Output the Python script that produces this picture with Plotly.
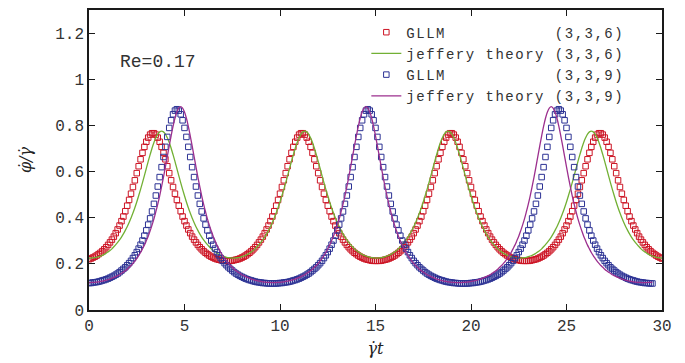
import plotly.graph_objects as go

# sampling step of the simulation time axis (gamma_dot * t)
t_step = 0.1

# GLLM (3,3,6): phi_dot / gamma_dot
gllm_336 = [
    0.220,0.223,0.227,0.231,0.236,0.242,0.248,0.255,0.263,0.272,0.282,0.293,0.305,0.318,0.333,0.349,0.366,0.385,0.405,0.428,0.452,0.477,0.504,0.533,0.562,0.593,0.623,0.653,0.681,0.707,0.729,0.747,0.760,0.766,
    0.766,0.760,0.747,0.729,0.707,0.681,0.653,0.623,0.593,0.562,0.533,0.504,0.477,0.452,0.428,0.405,0.385,0.366,0.349,0.333,0.318,0.305,0.293,0.282,0.272,0.263,0.255,0.248,0.242,0.236,0.231,0.227,0.223,0.220,0.218,0.216,0.214,0.213,0.213,
    0.213,0.213,0.214,0.216,0.218,0.220,0.223,0.227,0.231,0.236,0.242,0.248,0.255,0.263,0.272,0.282,0.293,0.305,0.318,0.333,0.349,0.366,0.385,0.405,0.428,0.452,0.477,0.504,0.533,0.562,0.593,0.623,0.653,0.681,0.707,0.729,0.747,0.760,0.766,
    0.766,0.760,0.747,0.729,0.707,0.681,0.653,0.623,0.593,0.562,0.533,0.504,0.477,0.452,0.428,0.405,0.385,0.366,0.349,0.333,0.318,0.305,0.293,0.282,0.272,0.263,0.255,0.248,0.242,0.236,0.231,0.227,0.223,0.220,0.218,0.216,0.214,0.213,0.213,
    0.213,0.213,0.214,0.216,0.218,0.220,0.223,0.227,0.231,0.236,0.242,0.248,0.255,0.263,0.272,0.282,0.293,0.305,0.318,0.333,0.349,0.366,0.385,0.405,0.428,0.452,0.477,0.504,0.533,0.562,0.593,0.623,0.653,0.681,0.707,0.729,0.747,0.760,0.766,
    0.766,0.760,0.747,0.729,0.707,0.681,0.653,0.623,0.593,0.562,0.533,0.504,0.477,0.452,0.428,0.405,0.385,0.366,0.349,0.333,0.318,0.305,0.293,0.282,0.272,0.263,0.255,0.248,0.242,0.236,0.231,0.227,0.223,0.220,0.218,0.216,0.214,0.213,0.213,
    0.213,0.213,0.214,0.216,0.218,0.220,0.223,0.227,0.231,0.236,0.242,0.248,0.255,0.263,0.272,0.282,0.293,0.305,0.318,0.333,0.349,0.366,0.385,0.405,0.428,0.452,0.477,0.504,0.533,0.562,0.593,0.623,0.653,0.681,0.707,0.729,0.747,0.760,0.766,
    0.766,0.760,0.747,0.729,0.707,0.681,0.653,0.623,0.593,0.562,0.533,0.504,0.477,0.452,0.428,0.405,0.385,0.366,0.349,0.333,0.318,0.305,0.293,0.282,0.272,0.263,0.255,0.248,0.242,0.236,0.231,0.227,0.223,
]

# Jeffery theory (3,3,6)
jeffery_336 = [
    0.225,
    0.225,0.226,0.227,0.228,0.231,0.234,0.237,0.241,0.246,0.252,0.258,0.265,0.274,0.283,0.293,0.304,0.316,0.330,0.345,0.361,0.379,0.399,0.420,0.443,0.468,0.495,0.523,0.552,0.582,0.613,0.644,0.673,0.701,0.726,0.746,0.762,0.772,0.775,
    0.772,0.762,0.746,0.726,0.701,0.673,0.644,0.613,0.582,0.552,0.523,0.495,0.468,0.443,0.420,0.399,0.379,0.361,0.345,0.330,0.316,0.304,0.293,0.283,0.274,0.265,0.258,0.252,0.246,0.241,0.237,0.234,0.231,0.228,0.227,0.226,0.225,
    0.225,0.226,0.227,0.228,0.231,0.234,0.237,0.241,0.246,0.252,0.258,0.265,0.274,0.283,0.293,0.304,0.316,0.330,0.345,0.361,0.379,0.399,0.420,0.443,0.468,0.495,0.523,0.552,0.582,0.613,0.644,0.673,0.701,0.726,0.746,0.762,0.772,0.775,
    0.772,0.762,0.746,0.726,0.701,0.673,0.644,0.613,0.582,0.552,0.523,0.495,0.468,0.443,0.420,0.399,0.379,0.361,0.345,0.330,0.316,0.304,0.293,0.283,0.274,0.265,0.258,0.252,0.246,0.241,0.237,0.234,0.231,0.228,0.227,0.226,0.225,
    0.225,0.226,0.227,0.228,0.231,0.234,0.237,0.241,0.246,0.252,0.258,0.265,0.274,0.283,0.293,0.304,0.316,0.330,0.345,0.361,0.379,0.399,0.420,0.443,0.468,0.495,0.523,0.552,0.582,0.613,0.644,0.673,0.701,0.726,0.746,0.762,0.772,0.775,
    0.772,0.762,0.746,0.726,0.701,0.673,0.644,0.613,0.582,0.552,0.523,0.495,0.468,0.443,0.420,0.399,0.379,0.361,0.345,0.330,0.316,0.304,0.293,0.283,0.274,0.265,0.258,0.252,0.246,0.241,0.237,0.234,0.231,0.228,0.227,0.226,0.225,
    0.225,0.226,0.227,0.228,0.231,0.234,0.237,0.241,0.246,0.252,0.258,0.265,0.274,0.283,0.293,0.304,0.316,0.330,0.345,0.361,0.379,0.399,0.420,0.443,0.468,0.495,0.523,0.552,0.582,0.613,0.644,0.673,0.701,0.726,0.746,0.762,0.772,0.775,
    0.772,0.762,0.746,0.726,0.701,0.673,0.644,0.613,0.582,0.552,0.523,0.495,0.468,0.443,0.420,0.399,0.379,0.361,0.345,0.330,0.316,0.304,0.293,0.283,0.274,0.265,0.258,0.252,0.246,0.241,0.237,0.234,0.231,0.228,0.227,0.226,0.225,
]

# GLLM (3,3,9)
gllm_339 = [
    0.117,0.117,0.119,0.120,0.121,0.123,0.125,0.128,0.130,0.133,0.136,0.140,0.144,0.148,0.153,0.158,0.164,0.171,0.178,0.185,0.194,0.203,0.213,0.225,0.237,0.251,0.266,0.283,0.301,0.322,0.345,0.370,0.397,0.427,0.460,0.496,0.535,0.576,0.619,0.663,0.707,0.750,0.789,0.822,0.848,0.864,0.870,
    0.864,0.848,0.822,0.789,0.750,0.707,0.663,0.619,0.576,0.535,0.496,0.460,0.427,0.397,0.370,0.345,0.322,0.301,0.283,0.266,0.251,0.237,0.225,0.213,0.203,0.194,0.185,0.178,0.171,0.164,0.158,0.153,0.148,0.144,0.140,0.136,0.133,0.130,0.128,0.125,0.123,0.121,0.120,0.119,0.117,0.117,0.116,0.115,0.115,0.115,
    0.115,0.115,0.116,0.117,0.117,0.119,0.120,0.121,0.123,0.125,0.128,0.130,0.133,0.136,0.140,0.144,0.148,0.153,0.158,0.164,0.171,0.178,0.185,0.194,0.203,0.213,0.225,0.237,0.251,0.266,0.283,0.301,0.322,0.345,0.370,0.397,0.427,0.460,0.496,0.535,0.576,0.619,0.663,0.707,0.750,0.789,0.822,0.848,0.864,0.870,
    0.864,0.848,0.822,0.789,0.750,0.707,0.663,0.619,0.576,0.535,0.496,0.460,0.427,0.397,0.370,0.345,0.322,0.301,0.283,0.266,0.251,0.237,0.225,0.213,0.203,0.194,0.185,0.178,0.171,0.164,0.158,0.153,0.148,0.144,0.140,0.136,0.133,0.130,0.128,0.125,0.123,0.121,0.120,0.119,0.117,0.117,0.116,0.115,0.115,0.115,
    0.115,0.115,0.116,0.117,0.117,0.119,0.120,0.121,0.123,0.125,0.128,0.130,0.133,0.136,0.140,0.144,0.148,0.153,0.158,0.164,0.171,0.178,0.185,0.194,0.203,0.213,0.225,0.237,0.251,0.266,0.283,0.301,0.322,0.345,0.370,0.397,0.427,0.460,0.496,0.535,0.576,0.619,0.663,0.707,0.750,0.789,0.822,0.848,0.864,0.870,
    0.864,0.848,0.822,0.789,0.750,0.707,0.663,0.619,0.576,0.535,0.496,0.460,0.427,0.397,0.370,0.345,0.322,0.301,0.283,0.266,0.251,0.237,0.225,0.213,0.203,0.194,0.185,0.178,0.171,0.164,0.158,0.153,0.148,0.144,0.140,0.136,0.133,0.130,0.128,0.125,0.123,0.121,0.120,0.119,0.117,0.117,0.116,0.115,0.115,
]

# Jeffery theory (3,3,9)
jeffery_339 = [
    0.119,0.119,0.120,0.120,0.121,0.122,0.124,0.125,0.127,0.129,0.132,0.134,0.138,0.141,0.145,0.149,0.153,0.159,0.164,0.170,0.177,0.185,0.193,0.202,0.212,0.224,0.236,0.249,0.265,0.281,0.300,0.320,0.343,0.368,0.395,0.426,0.459,0.495,0.535,0.576,0.620,0.666,0.711,0.755,0.796,0.831,0.858,0.875,0.881,
    0.875,0.858,0.831,0.796,0.755,0.711,0.666,0.620,0.576,0.535,0.495,0.459,0.426,0.395,0.368,0.343,0.320,0.300,0.281,0.265,0.249,0.236,0.224,0.212,0.202,0.193,0.185,0.177,0.170,0.164,0.159,0.153,0.149,0.145,0.141,0.138,0.134,0.132,0.129,0.127,0.125,0.124,0.122,0.121,0.120,0.120,0.119,0.119,
    0.119,0.119,0.120,0.120,0.121,0.122,0.124,0.125,0.127,0.129,0.132,0.134,0.138,0.141,0.145,0.149,0.153,0.159,0.164,0.170,0.177,0.185,0.193,0.202,0.212,0.224,0.236,0.249,0.265,0.281,0.300,0.320,0.343,0.368,0.395,0.426,0.459,0.495,0.535,0.576,0.620,0.666,0.711,0.755,0.796,0.831,0.858,0.875,0.881,
    0.875,0.858,0.831,0.796,0.755,0.711,0.666,0.620,0.576,0.535,0.495,0.459,0.426,0.395,0.368,0.343,0.320,0.300,0.281,0.265,0.249,0.236,0.224,0.212,0.202,0.193,0.185,0.177,0.170,0.164,0.159,0.153,0.149,0.145,0.141,0.138,0.134,0.132,0.129,0.127,0.125,0.124,0.122,0.121,0.120,0.120,0.119,0.119,
    0.119,0.119,0.120,0.120,0.121,0.122,0.124,0.125,0.127,0.129,0.132,0.134,0.138,0.141,0.145,0.149,0.153,0.159,0.164,0.170,0.177,0.185,0.193,0.202,0.212,0.224,0.236,0.249,0.265,0.281,0.300,0.320,0.343,0.368,0.395,0.426,0.459,0.495,0.535,0.576,0.620,0.666,0.711,0.755,0.796,0.831,0.858,0.875,0.881,
    0.875,0.858,0.831,0.796,0.755,0.711,0.666,0.620,0.576,0.535,0.495,0.459,0.426,0.395,0.368,0.343,0.320,0.300,0.281,0.265,0.249,0.236,0.224,0.212,0.202,0.193,0.185,0.177,0.170,0.164,0.159,0.153,0.149,0.145,0.141,0.138,0.134,0.132,0.129,0.127,0.125,0.124,0.122,0.121,0.120,0.120,0.119,0.119,
    0.119,0.119,0.120,0.120,0.121,
]

x_ticks = [0, 5, 10, 15, 20, 25, 30]
y_ticks = [0, 0.2, 0.4, 0.6, 0.8, 1.0, 1.2]
y_ticktext = ["0", "0.2", "0.4", "0.6", "0.8", "1", "1.2"]

NB = "\u00a0"
legend_labels = [
    "GLLM" + NB * 11 + "(3,3,6)",
    "jeffery" + NB + "theory" + NB + "(3,3,6)",
    "GLLM" + NB * 11 + "(3,3,9)",
    "jeffery" + NB + "theory" + NB + "(3,3,9)",
]
names = ["<span style='letter-spacing:1.5px'>" + s + "</span>" for s in legend_labels]

RED = "#cc1424"
GREEN = "#72b034"
BLUE = "#2c3294"
PURPLE = "#9c2f8e"
MONO = "Liberation Mono"
MATH = "DejaVu Serif"


def tgrid(vals):
    return [round(i * t_step, 1) for i in range(len(vals))]


fig = go.Figure()
fig.add_trace(go.Scatter(
    x=tgrid(gllm_336), y=gllm_336, mode="markers", name=names[0],
    marker=dict(symbol="square-open", size=5.5, color=RED, line=dict(width=1, color=RED)),
))
fig.add_trace(go.Scatter(
    x=tgrid(jeffery_336), y=jeffery_336, mode="lines", name=names[1],
    line=dict(color=GREEN, width=1.3, shape="spline"),
))
fig.add_trace(go.Scatter(
    x=tgrid(gllm_339), y=gllm_339, mode="markers", name=names[2],
    marker=dict(symbol="square-open", size=5.5, color=BLUE, line=dict(width=1, color=BLUE)),
))
fig.add_trace(go.Scatter(
    x=tgrid(jeffery_339), y=jeffery_339, mode="lines", name=names[3],
    line=dict(color=PURPLE, width=1.3, shape="spline"),
))

axis_common = dict(
    showgrid=False, zeroline=False, showline=True, linewidth=1.6, linecolor="#1a1a1a",
    mirror="ticks", ticks="inside", ticklen=6, tickwidth=1.2, tickcolor="#1a1a1a",
    tickfont=dict(family=MONO, size=16, color="#333"),
)

fig.update_layout(
    width=685, height=363,
    margin=dict(l=89, r=23, t=8, b=53),
    paper_bgcolor="white", plot_bgcolor="white",
    font=dict(family=MONO, size=16, color="#333"),
    xaxis=dict(
        range=[0, 30], tickvals=x_ticks,
        title=dict(text="<i>γ̇t</i>", font=dict(family=MATH, size=16, color="#222"), standoff=8),
        **axis_common,
    ),
    yaxis=dict(
        range=[0, 1.3], tickvals=y_ticks, ticktext=y_ticktext,
        title=dict(text="<i>φ̇/γ̇</i>", font=dict(family=MATH, size=16, color="#222"), standoff=20),
        **axis_common,
    ),
    legend=dict(
        x=0.484, y=0.978, xanchor="left", yanchor="top",
        bgcolor="rgba(0,0,0,0)", borderwidth=0,
        font=dict(family=MONO, size=14, color="#333"),
        itemwidth=30, tracegroupgap=0,
    ),
    annotations=[dict(
        text="Re=0.17", xref="paper", yref="paper", x=0.12, y=0.828,
        xanchor="center", yanchor="middle", showarrow=False,
        font=dict(family=MONO, size=18, color="#333"),
    )],
)

fig.write_html("out.html")
